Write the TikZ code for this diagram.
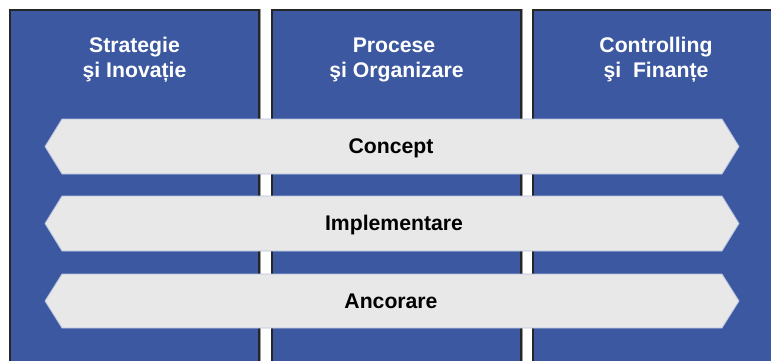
\documentclass[tikz,border=0pt]{standalone}
\usepackage{fontspec}
\setmainfont{Liberation Sans}
\definecolor{colblue}{HTML}{3C58A0}
\definecolor{bannergrey}{HTML}{E8E8E8}
\definecolor{bannerline}{HTML}{B4C0DC}
\definecolor{shadowgrey}{HTML}{9A9A9A}
\tikzset{
  colbox/.style={fill=colblue, draw=black!85, line width=1.1pt},
  colshadow/.style={draw=shadowgrey, line width=3pt},
  banner/.style={fill=bannergrey, draw=bannerline, line width=0.8pt},
  coltitle/.style={text=white, font=\fontsize{21.2}{25}\selectfont\bfseries, align=center, anchor=base},
  bannertext/.style={text=black, font=\fontsize{21.2}{24}\selectfont\bfseries, anchor=base},
}
\begin{document}
\begin{tikzpicture}[x=1pt, y=-1pt]
\useasboundingbox (0,0) rectangle (771,360);
% columns
\foreach \xl/\xr in {10/259, 272/521, 533/782} {
  \draw[colshadow] (\xl,10) rectangle (\xr,380);
  \draw[colbox] (\xl,10) rectangle (\xr,380);
}
% titles
\node[coltitle] (t1) at (134.5,77) {Strategie\\şi Inovație};
\node[coltitle] (t2) at (396.5,77) {Procese\hspace*{5pt}\\şi Organizare};
\node[coltitle] (t3) at (656,77) {Controlling\\şi~~Finanțe};
% banners
\foreach \yt/\yb in {119/174, 196/251, 274/328} {
  \pgfmathsetmacro{\ym}{(\yt+\yb)/2}
  \draw[banner] (45,\ym) -- (62,\yt) -- (722,\yt) -- (739,\ym) -- (722,\yb) -- (62,\yb) -- cycle;
}
\node[bannertext] (b1) at (391,153.5) {Concept};
\node[bannertext] (b2) at (394,230.5) {Implementare};
\node[bannertext] (b3) at (391,308) {Ancorare};
\end{tikzpicture}
\end{document}
